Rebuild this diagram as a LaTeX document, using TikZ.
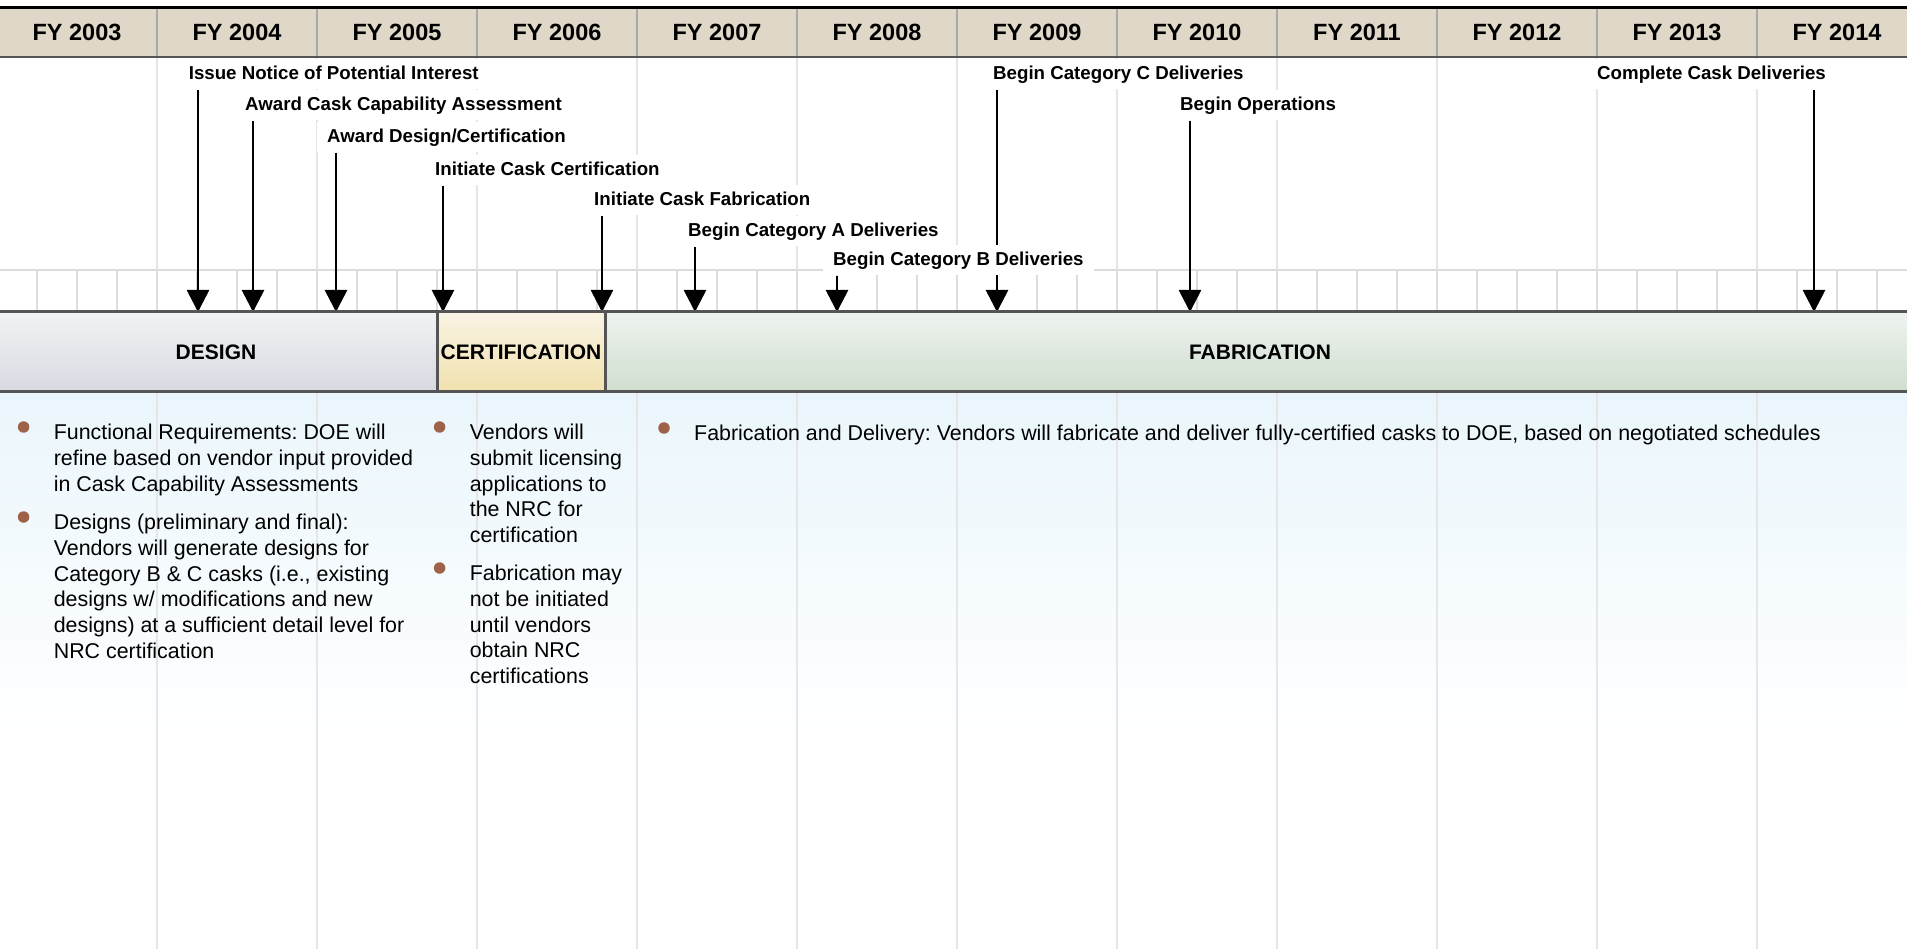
\documentclass[tikz,border=0pt]{standalone}
\usepackage{fontspec}
\setmainfont{Liberation Sans}
\usetikzlibrary{arrows.meta,backgrounds,positioning}
\definecolor{hdrfill}{HTML}{DFD8C8}
\definecolor{gridgray}{HTML}{E6E6E6}
\definecolor{tickgray}{HTML}{DCDCDC}
\definecolor{sepgray}{HTML}{A8A8A8}
\definecolor{edgegray}{HTML}{555555}
\definecolor{bodyblue}{HTML}{EAF6FC}
\definecolor{dottan}{HTML}{9E6248}
\definecolor{designtop}{HTML}{F1F2F4}
\definecolor{designbot}{HTML}{D6DAE1}
\definecolor{certtop}{HTML}{F9F4E4}
\definecolor{certbot}{HTML}{F1E1AE}
\definecolor{fabtop}{HTML}{EEF3EE}
\definecolor{fabbot}{HTML}{CFDECF}
\frenchspacing

\begin{document}
\begin{tikzpicture}[x=1pt,y=-1pt,
    year/.style={font=\fontsize{23.5}{28}\selectfont\bfseries},
    mlabel/.style={fill=white, anchor=west, inner xsep=10pt, inner ysep=6pt,
      text height=14pt, text depth=4pt, font=\fontsize{18.7}{22}\selectfont\bfseries},
    ms/.style={line width=2.7pt, -{Triangle[width=22pt,length=22pt]}},
    stage/.style={draw=edgegray, line width=3pt, minimum height=80pt, inner sep=0pt,
      font=\fontsize{21}{25}\selectfont\bfseries},
    para/.style={anchor=north west, align=left, inner sep=0pt, font=\fontsize{21.4}{25.7}\selectfont},
    dot/.style={circle, fill=dottan, minimum size=11.5pt, inner sep=0pt}]
  \useasboundingbox (0,0) rectangle (1907,949);

  \foreach \lx/\ly/\ax/\txt [count=\i] in {
      188.6/73/198/{Issue Notice of Potential Interest},
      245/104/253/{Award Cask Capability Assessment},
      327/136/336/{Award Design/Certification},
      435/169/443/{Initiate Cask Certification},
      594/199/602/{Initiate Cask Fabrication},
      688/230/695/{Begin Category A Deliveries},
      833/259/837/{Begin Category B Deliveries},
      993/73/997/{Begin Category C Deliveries},
      1180/104/1190/{Begin Operations},
      1597/73/1814/{Complete Cask Deliveries}} {
    \node[mlabel] (m\i) at (\lx-10,\ly+1.5) {\txt};
    \coordinate (t\i) at (\ax,312);
  }

  \begin{pgfonlayer}{background}
    \shade[top color=bodyblue, bottom color=white] (0,392) rectangle (1907,740);
    \foreach \k in {0,...,10}
      \draw[gridgray, line width=2pt] (157+160*\k,57) -- (157+160*\k,949);
    \draw[tickgray, line width=2.5pt] (0,270) -- (1907,270);
    \foreach \j in {0,...,47}
      \draw[tickgray, line width=2.5pt] (37+40*\j,270) -- (37+40*\j,312);
    \foreach \i in {1,...,10}
      \draw[ms] (m\i.south -| t\i) -- (t\i);
  \end{pgfonlayer}

  \fill[hdrfill] (0,8) rectangle (1907,57);
  \foreach \k in {0,...,10}
    \draw[sepgray, line width=2pt] (157+160*\k,8) -- (157+160*\k,57);
  \draw[black, line width=3pt] (0,8) -- (1907,8);
  \draw[edgegray, line width=2.5pt] (0,57) -- (1907,57);
  \foreach \yr [count=\k from 0] in {2003,...,2014}
    \node[year] (fy\yr) at (77+160*\k,32.5) {FY \yr};

  \node[stage, top color=designtop, bottom color=designbot, minimum width=442pt] (design) at (216,352) {DESIGN};
  \node[stage, top color=certtop, bottom color=certbot, minimum width=168pt] (cert) at (521,352) {CERTIFICATION};
  \node[stage, top color=fabtop, bottom color=fabbot, minimum width=1310pt] (fab) at (1260,352) {FABRICATION};

  \node[para] (p1) at (53.6,424) {Functional Requirements: DOE will\\refine based on vendor input provided\\in Cask Capability Assessments};
  \node[para] (p2) at (53.6,514) {Designs (preliminary and final):\\Vendors will generate designs for\\Category B \& C casks (i.e., existing\\designs w/ modifications and new\\designs) at a sufficient detail level for\\NRC certification};
  \node[para] (p3) at (469.6,424) {Vendors will\\submit licensing\\applications to\\the NRC for\\certification};
  \node[para] (p4) at (469.6,565) {Fabrication may\\not be initiated\\until vendors\\obtain NRC\\certifications};
  \node[para] (p5) at (694,425) {Fabrication and Delivery: Vendors will fabricate and deliver fully-certified casks to DOE, based on negotiated schedules};
  \foreach \p in {p1,p2,p3,p4,p5}
    \node[dot] (d\p) at ([xshift=-30pt,yshift=-3pt]\p.north west) {};
\end{tikzpicture}
\end{document}
